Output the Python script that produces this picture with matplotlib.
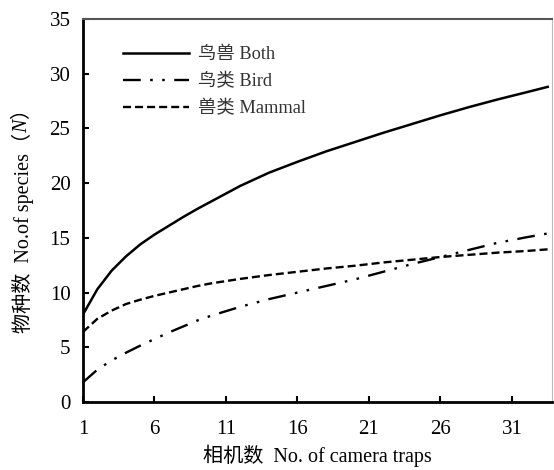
import matplotlib
matplotlib.use('Agg')
from matplotlib import pyplot as plt

# valores (curvas de rarefacao)
x_both = [1, 2, 3, 4, 5, 6, 7, 8, 9, 10, 12, 14, 16, 18, 20, 22, 24, 26, 28, 30, 32, 33.5]
y_both = [8.0, 10.3, 12.0, 13.3, 14.4, 15.3, 16.1, 16.9, 17.65, 18.35, 19.75, 20.95, 21.95,
          22.9, 23.75, 24.6, 25.4, 26.2, 26.95, 27.65, 28.3, 28.8]

x_bird = [1, 2, 3, 4, 5, 6, 7, 8, 9, 10, 12, 14, 16, 18, 20, 22, 24, 26, 28, 30, 32, 33.5]
y_bird = [1.8, 2.95, 3.8, 4.5, 5.15, 5.75, 6.35, 6.9, 7.45, 7.9, 8.7, 9.4, 10.0, 10.6,
          11.2, 11.9, 12.6, 13.25, 13.9, 14.55, 15.05, 15.4]

x_mammal = [1, 2, 3, 4, 5, 6, 7, 8, 9, 10, 12, 14, 16, 18, 20, 22, 24, 26, 28, 30, 32, 33.5]
y_mammal = [6.4, 7.6, 8.35, 8.95, 9.35, 9.7, 10.0, 10.3, 10.6, 10.85, 11.25, 11.6, 11.9,
            12.2, 12.45, 12.75, 13.0, 13.25, 13.45, 13.65, 13.8, 13.95]

labels = ['鸟兽 Both', '鸟类 Bird', '兽类 Mammal']
xticks = [1, 6, 11, 16, 21, 26, 31]
yticks = [0, 5, 10, 15, 20, 25, 30, 35]

fontes = ['Liberation Serif', 'Noto Sans CJK SC']
plt.rcParams['font.family'] = fontes

W, H = 554, 470
fig = plt.figure(figsize=(W / 100, H / 100), dpi=100)
ax = fig.add_axes([83 / W, 1 - 402 / H, (552 - 83) / W, (402 - 19) / H])

ax.plot(x_both, y_both, color='black', lw=1.8, label=labels[0])
ax.plot(x_bird, y_bird, color='black', lw=1.7, linestyle=(0, (7.5, 4, 1.1, 4, 1.1, 4)),
        label=labels[1])
ax.plot(x_mammal, y_mammal, color='black', lw=1.7, linestyle=(0, (3.4, 1.7)),
        label=labels[2])

ax.set_xlim(1, 33.8)
ax.set_ylim(0, 35)
ax.set_xticks(xticks)
ax.set_yticks(yticks)
ax.tick_params(direction='in', length=4, width=1.5, labelsize=15, pad=9, colors='black')
ax.tick_params(axis='x', pad=13)

ax.spines['left'].set_linewidth(2)
ax.spines['bottom'].set_linewidth(2)
ax.spines['top'].set_linewidth(1.5)
ax.spines['top'].set_color('#555555')
ax.spines['right'].set_linewidth(0.8)
ax.spines['right'].set_color('#bbbbbb')

ax.set_xlabel('相机数  No. of camera traps', fontsize=14.5, labelpad=4)

leg = ax.legend(loc='upper left', bbox_to_anchor=(0.051, 0.972), frameon=False,
                fontsize=13.2, handlelength=3.6, handletextpad=0.45, labelspacing=0.55)
for t in leg.get_texts():
    t.set_color('#333333')

# rotulo y em tres pedacos para ter o N em italico
fig.canvas.draw()
rend = fig.canvas.get_renderer()
pecas = [('物种数  No.of species（', 'normal'), ('N', 'italic'), ('）', 'normal')]
textos = []
for s, st in pecas:
    t = fig.text(23 / W, 0, s, rotation=90, ha='center', va='bottom', fontsize=14.5,
                 style=st)
    textos.append(t)
alturas = [t.get_window_extent(rend).height for t in textos]
y0 = (1 - 216 / H) * H - sum(alturas) / 2
for t, h in zip(textos, alturas):
    t.set_y(y0 / H)
    y0 += h

plt.savefig('out.png', dpi=100)
